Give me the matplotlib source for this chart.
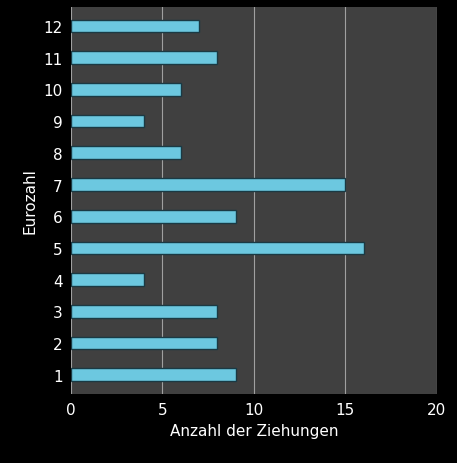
import matplotlib
matplotlib.use("Agg")
import matplotlib.pyplot as plt

eurozahl = [1, 2, 3, 4, 5, 6, 7, 8, 9, 10, 11, 12]
anzahl = [9, 8, 8, 4, 16, 9, 15, 6, 4, 6, 8, 7]
xticks = [0, 5, 10, 15, 20]

fig = plt.figure(figsize=(4.57, 4.64), dpi=100, facecolor="black")
ax = fig.add_axes([0.155, 0.149, 0.801, 0.834], facecolor="#404040")
ax.barh(eurozahl, anzahl, height=0.4, color="#6cc8e0", edgecolor="#1a3a44", linewidth=1, zorder=3)
ax.set_xlim(0, 20)
ax.set_ylim(0.4, 12.6)
ax.set_xticks(xticks)
ax.set_yticks(eurozahl)
ax.xaxis.grid(True, color="#a0a0a0", linewidth=0.8, zorder=0)
for s in ax.spines.values():
    s.set_visible(False)
ax.tick_params(colors="white", labelsize=11, length=0, pad=6)
ax.set_xlabel("Anzahl der Ziehungen", color="white", fontsize=11)
ax.set_ylabel("Eurozahl", color="white", fontsize=11)
fig.savefig("out.png", dpi=100, facecolor="black")
